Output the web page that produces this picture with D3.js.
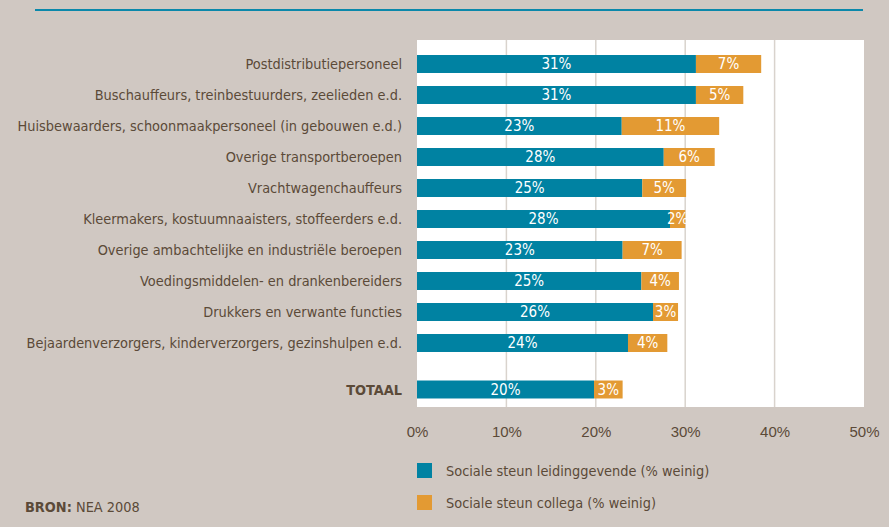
<!DOCTYPE html>
<html>
<head>
<meta charset="utf-8">
<script src="https://cdn.jsdelivr.net/npm/d3@7"></script>
<style>
  body { margin: 0; background: #d0c8c2; }
  svg { display: block; font-family: "Liberation Sans Narrow", "DejaVu Sans Condensed", sans-serif; }
</style>
</head>
<body>
<svg id="chart" width="889" height="527"></svg>
<script>
// categories + values (% weinig)
const categories = [
  "Postdistributiepersoneel",
  "Buschauffeurs, treinbestuurders, zeelieden e.d.",
  "Huisbewaarders, schoonmaakpersoneel (in gebouwen e.d.)",
  "Overige transportberoepen",
  "Vrachtwagenchauffeurs",
  "Kleermakers, kostuumnaaisters, stoffeerders e.d.",
  "Overige ambachtelijke en industriële beroepen",
  "Voedingsmiddelen- en drankenbereiders",
  "Drukkers en verwante functies",
  "Bejaardenverzorgers, kinderverzorgers, gezinshulpen e.d."
];
const leidinggevende = [31.2, 31.2, 22.9, 27.6, 25.2, 28.3, 23.0, 25.1, 26.4, 23.6];
const collega        = [7.3, 5.3, 10.9, 5.7, 4.9, 1.7, 6.6, 4.2, 2.8, 4.4];
const totalLabel = "TOTAAL";
const totalLeiding = 19.8;
const totalCollega = 3.2;
const xTicks = [0, 10, 20, 30, 40, 50];
const seriesNames = ["Sociale steun leidinggevende (% weinig)", "Sociale steun collega (% weinig)"];
const colors = ["#0082a2", "#e39a33"];

const textColor = "#5b4a38";
const fs = 14.4;
const svg = d3.select("#chart");

const plot = { left: 417, right: 864, top: 40, bottom: 407 };

const x = d3.scaleLinear().domain([0, 50]).range([plot.left, plot.right]);
const y = d3.scaleBand().domain(categories).range([48.5, 358.5]).paddingInner(0.42).paddingOuter(0.21);
const step = y.step();

// rows: regular + total (placed 1.5 steps below last row)
const rows = categories.map((c, i) => ({ label: c, a: leidinggevende[i], b: collega[i], y: y(c), bold: false }));
rows.push({ label: totalLabel, a: totalLeiding, b: totalCollega, y: y(categories[categories.length - 1]) + step * 1.5, bold: true });

// top rule
svg.append("line")
  .attr("x1", 35).attr("x2", 863).attr("y1", 10).attr("y2", 10)
  .attr("stroke", "#0b88aa").attr("stroke-width", 2);

// white plot background
svg.append("rect")
  .attr("x", plot.left).attr("y", plot.top)
  .attr("width", plot.right - plot.left).attr("height", plot.bottom - plot.top)
  .attr("fill", "#fff");

// grid
svg.append("g").selectAll("line")
  .data(xTicks.slice(1, -1))
  .join("line")
  .attr("x1", d => x(d)).attr("x2", d => x(d))
  .attr("y1", plot.top).attr("y2", plot.bottom)
  .attr("stroke", "#d9d3cd").attr("stroke-width", 1.5);

// x axis labels
const xAxis = svg.append("g")
  .attr("transform", `translate(0,${plot.bottom})`)
  .call(d3.axisBottom(x).tickValues(xTicks).tickFormat(d => d + "%").tickSize(0).tickPadding(19));
xAxis.select(".domain").remove();
xAxis.selectAll("text").attr("fill", textColor).attr("font-size", 15).attr("font-family", null);

const bh = y.bandwidth();
const g = svg.append("g");

// bars
const row = g.selectAll("g.row").data(rows).join("g").attr("class", "row")
  .attr("transform", d => `translate(0,${d.y})`);

row.append("rect")
  .attr("x", x(0)).attr("y", 0)
  .attr("width", d => x(d.a) - x(0)).attr("height", bh)
  .attr("fill", colors[0]);
row.append("rect")
  .attr("x", d => x(d.a)).attr("y", 0)
  .attr("width", d => x(d.a + d.b) - x(d.a)).attr("height", bh)
  .attr("fill", colors[1]);

row.append("text")
  .attr("x", d => (x(0) + x(d.a)) / 2).attr("y", bh / 2).attr("dy", "0.36em")
  .attr("text-anchor", "middle").attr("fill", "#fff").attr("font-size", 15)
  .text(d => Math.round(d.a) + "%");
row.append("text")
  .attr("x", d => (x(d.a) + x(d.a + d.b)) / 2).attr("y", bh / 2).attr("dy", "0.36em")
  .attr("text-anchor", "middle").attr("fill", "#fff").attr("font-size", 15)
  .text(d => Math.round(d.b) + "%");

// category labels
row.append("text")
  .attr("x", 402).attr("y", bh / 2).attr("dy", "0.36em")
  .attr("text-anchor", "end").attr("fill", textColor).attr("font-size", fs)
  .attr("font-weight", d => d.bold ? "bold" : null)
  .text(d => d.label);

// legend
const leg = svg.append("g").selectAll("g").data(seriesNames).join("g")
  .attr("transform", (d, i) => `translate(417,${463 + i * 32})`);
leg.append("rect").attr("width", 15).attr("height", 15).attr("fill", (d, i) => colors[i]);
leg.append("text").attr("x", 29).attr("y", 8).attr("dy", "0.36em")
  .attr("fill", textColor).attr("font-size", fs).text(d => d);

// source
const src = svg.append("text").attr("x", 25).attr("y", 507).attr("dy", "0.36em")
  .attr("fill", textColor).attr("font-size", fs);
src.append("tspan").attr("font-weight", "bold").text("BRON:");
src.append("tspan").text(" NEA 2008");
</script>
</body>
</html>
